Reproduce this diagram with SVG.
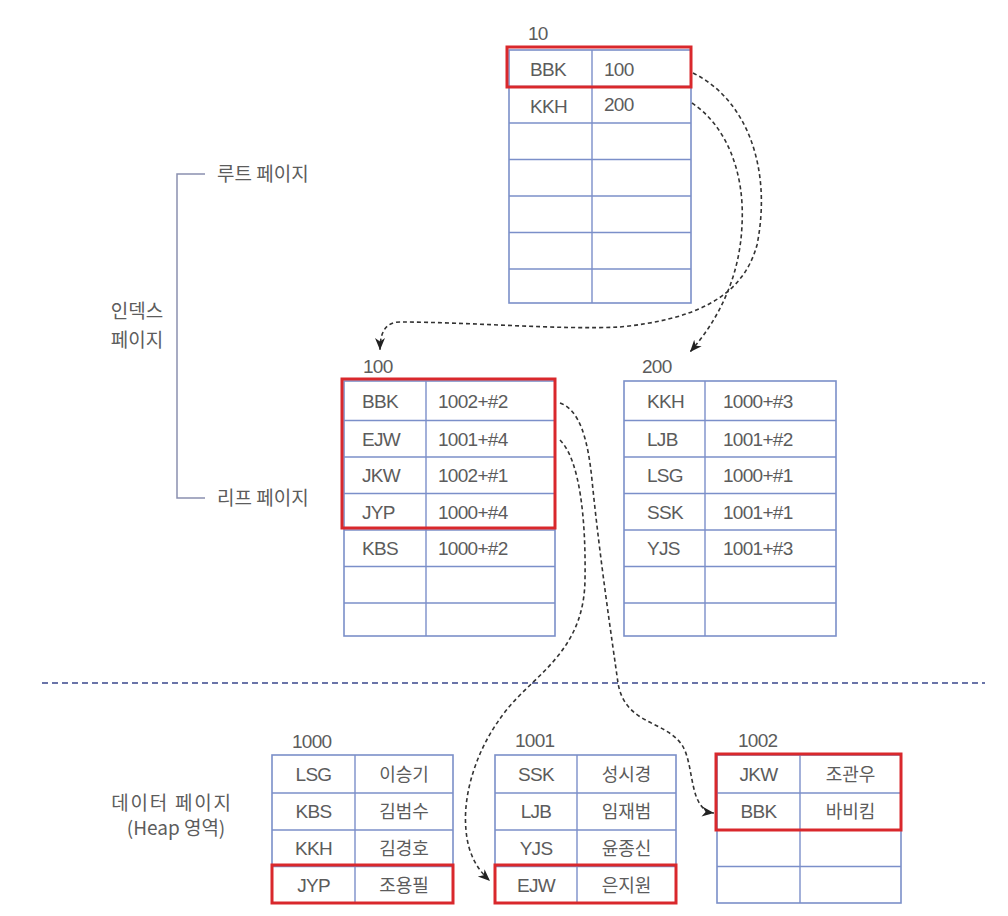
<svg xmlns="http://www.w3.org/2000/svg" width="1008" height="916" viewBox="0 0 1008 916">
<defs>
<style>
.grid{fill:#fff;stroke:#7b8fc9;stroke-width:1.6}
.gl{stroke:#7b8fc9;stroke-width:1.4}
.red{fill:none;stroke:#d9282c;stroke-width:3}
.t{font-family:"Liberation Sans",Arial,sans-serif;font-size:19px;fill:#5c5c5c;letter-spacing:-0.7px}
.tc{font-family:"Liberation Sans",Arial,sans-serif;font-size:19px;fill:#5c5c5c;letter-spacing:-0.7px;text-anchor:middle}
.ko{font-family:"Noto Sans CJK KR",sans-serif;font-size:18px;fill:#5c5c5c;text-anchor:middle}
.lbl{font-family:"Noto Sans CJK KR",sans-serif;font-size:19px;fill:#5c5c5c}
.conn{fill:none;stroke:#333;stroke-width:1.6;stroke-dasharray:4 3}
</style>
<marker id="ah" markerUnits="userSpaceOnUse" markerWidth="14" markerHeight="12" refX="12" refY="5" orient="auto">
<path d="M0,0 L12,5 L0,10 L3.5,5 z" fill="#222"/>
</marker>
</defs>
<rect width="1008" height="916" fill="#fff"/>

<g id="labels">
<path d="M205,174 H177 V498 H205" fill="none" stroke="#8a90b0" stroke-width="1.5"/>
<text class="lbl" x="217" y="181">루트 페이지</text>
<text class="lbl" x="217" y="505">리프 페이지</text>
<text class="lbl" x="137" y="318" text-anchor="middle">인덱스</text>
<text class="lbl" x="137" y="347" text-anchor="middle">페이지</text>
<text class="lbl" x="172" y="810" text-anchor="middle" font-size="18" letter-spacing="1.8">데이터 페이지</text>
<text class="lbl" x="176" y="835" text-anchor="middle" font-size="18">(Heap 영역)</text>
<line x1="42" y1="683" x2="985" y2="683" stroke="#6a74a8" stroke-width="2" stroke-dasharray="6 4"/>
</g>

<g id="root-10">
<text class="t" x="528" y="40">10</text>
<rect class="grid" x="509" y="50" width="182" height="253"/>
<line class="gl" x1="592" y1="50" x2="592" y2="303"/>
<line class="gl" x1="509" y1="86.5" x2="691" y2="86.5"/>
<line class="gl" x1="509" y1="123" x2="691" y2="123"/>
<line class="gl" x1="509" y1="159.5" x2="691" y2="159.5"/>
<line class="gl" x1="509" y1="196" x2="691" y2="196"/>
<line class="gl" x1="509" y1="232.5" x2="691" y2="232.5"/>
<line class="gl" x1="509" y1="269" x2="691" y2="269"/>
<text class="t" x="530" y="76">BBK</text><text class="t" x="604" y="76">100</text>
<text class="t" x="530" y="113">KKH</text><text class="t" x="604" y="111">200</text>
<rect class="red" x="507" y="47" width="184" height="40"/>
</g>

<g id="leaf-100">
<text class="t" x="363" y="373">100</text>
<rect class="grid" x="344" y="381" width="211" height="255"/>
<line class="gl" x1="426" y1="381" x2="426" y2="636"/>
<line class="gl" x1="344" y1="420.5" x2="555" y2="420.5"/>
<line class="gl" x1="344" y1="457" x2="555" y2="457"/>
<line class="gl" x1="344" y1="493.5" x2="555" y2="493.5"/>
<line class="gl" x1="344" y1="530" x2="555" y2="530"/>
<line class="gl" x1="344" y1="566.5" x2="555" y2="566.5"/>
<line class="gl" x1="344" y1="603" x2="555" y2="603"/>
<text class="t" x="362" y="408">BBK</text><text class="t" x="438" y="408">1002+#2</text>
<text class="t" x="362" y="445.5">EJW</text><text class="t" x="438" y="445.5">1001+#4</text>
<text class="t" x="362" y="482">JKW</text><text class="t" x="438" y="482">1002+#1</text>
<text class="t" x="362" y="518.5">JYP</text><text class="t" x="438" y="518.5">1000+#4</text>
<text class="t" x="362" y="555">KBS</text><text class="t" x="438" y="555">1000+#2</text>
<rect class="red" x="342" y="379" width="213" height="149"/>
</g>

<g id="leaf-200">
<text class="t" x="642" y="373">200</text>
<rect class="grid" x="624" y="381" width="212" height="255"/>
<line class="gl" x1="705" y1="381" x2="705" y2="636"/>
<line class="gl" x1="624" y1="420.5" x2="836" y2="420.5"/>
<line class="gl" x1="624" y1="457" x2="836" y2="457"/>
<line class="gl" x1="624" y1="493.5" x2="836" y2="493.5"/>
<line class="gl" x1="624" y1="530" x2="836" y2="530"/>
<line class="gl" x1="624" y1="566.5" x2="836" y2="566.5"/>
<line class="gl" x1="624" y1="603" x2="836" y2="603"/>
<text class="t" x="647" y="408">KKH</text><text class="t" x="723" y="408">1000+#3</text>
<text class="t" x="647" y="445.5">LJB</text><text class="t" x="723" y="445.5">1001+#2</text>
<text class="t" x="647" y="482">LSG</text><text class="t" x="723" y="482">1000+#1</text>
<text class="t" x="647" y="518.5">SSK</text><text class="t" x="723" y="518.5">1001+#1</text>
<text class="t" x="647" y="555">YJS</text><text class="t" x="723" y="555">1001+#3</text>
</g>

<g id="data-1000">
<text class="t" x="292" y="748">1000</text>
<rect class="grid" x="272" y="755" width="181" height="148"/>
<line class="gl" x1="355" y1="755" x2="355" y2="903"/>
<line class="gl" x1="272" y1="793" x2="453" y2="793"/>
<line class="gl" x1="272" y1="830" x2="453" y2="830"/>
<line class="gl" x1="272" y1="866.5" x2="453" y2="866.5"/>
<text class="tc" x="313.5" y="781">LSG</text><text class="ko" x="404" y="781">이승기</text>
<text class="tc" x="313.5" y="818">KBS</text><text class="ko" x="404" y="818">김범수</text>
<text class="tc" x="313.5" y="855">KKH</text><text class="ko" x="404" y="855">김경호</text>
<text class="tc" x="313.5" y="891.5">JYP</text><text class="ko" x="404" y="891.5">조용필</text>
<rect class="red" x="272" y="865" width="181" height="38"/>
</g>

<g id="data-1001">
<text class="t" x="515" y="747">1001</text>
<rect class="grid" x="495" y="755" width="181" height="148"/>
<line class="gl" x1="577" y1="755" x2="577" y2="903"/>
<line class="gl" x1="495" y1="793" x2="676" y2="793"/>
<line class="gl" x1="495" y1="830" x2="676" y2="830"/>
<line class="gl" x1="495" y1="866.5" x2="676" y2="866.5"/>
<text class="tc" x="536" y="781">SSK</text><text class="ko" x="626.5" y="781">성시경</text>
<text class="tc" x="536" y="818">LJB</text><text class="ko" x="626.5" y="818">임재범</text>
<text class="tc" x="536" y="855">YJS</text><text class="ko" x="626.5" y="855">윤종신</text>
<text class="tc" x="536" y="891.5">EJW</text><text class="ko" x="626.5" y="891.5">은지원</text>
<rect class="red" x="495" y="865" width="181" height="38"/>
</g>

<g id="data-1002">
<text class="t" x="738" y="747">1002</text>
<rect class="grid" x="717" y="755" width="184" height="148"/>
<line class="gl" x1="800" y1="755" x2="800" y2="903"/>
<line class="gl" x1="717" y1="793" x2="901" y2="793"/>
<line class="gl" x1="717" y1="830" x2="901" y2="830"/>
<line class="gl" x1="717" y1="866.5" x2="901" y2="866.5"/>
<text class="tc" x="758.5" y="781">JKW</text><text class="ko" x="850.5" y="781">조관우</text>
<text class="tc" x="758.5" y="818">BBK</text><text class="ko" x="850.5" y="818">바비킴</text>
<rect class="red" x="716" y="754" width="185" height="76"/>
</g>

<g id="connectors">
<path class="conn" d="M693,73 C748,100 772,170 757,245 C742,300 690,320 620,327 C560,330 470,322 400,322 C385,322 380,333 380,350" marker-end="url(#ah)"/>
<path class="conn" d="M692,103 C725,125 745,170 742,225 C740,275 720,318 690,352" marker-end="url(#ah)"/>
<path class="conn" d="M560,403 C580,410 588,440 592,480 C600,560 612,640 618,683 C625,725 665,720 682,745 C695,765 688,810 714,813" marker-end="url(#ah)"/>
<path class="conn" d="M560,440 C580,460 586,520 585,580 C584,640 550,665 520,695 C480,735 462,790 466,830 C468,855 478,870 490,881" marker-end="url(#ah)"/>
</g>
</svg>
